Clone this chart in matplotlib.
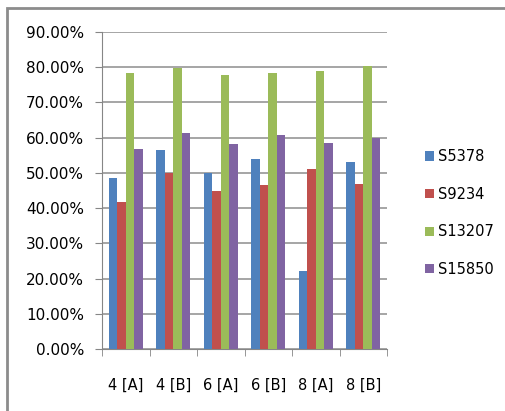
import matplotlib
matplotlib.use("Agg")
import matplotlib.pyplot as plt
import numpy as np
from matplotlib.patches import Rectangle
from matplotlib.ticker import PercentFormatter

# data
categories = ["4 [A]", "4 [B]", "6 [A]", "6 [B]", "8 [A]", "8 [B]"]
s5378 = [48.5, 56.5, 50.0, 53.9, 22.1, 53.1]
s9234 = [41.6, 50.0, 44.9, 46.6, 51.1, 46.9]
s13207 = [78.4, 79.9, 77.8, 78.4, 78.9, 80.4]
s15850 = [56.8, 61.3, 58.2, 60.8, 58.5, 59.9]
series_names = ["S5378", "S9234", "S13207", "S15850"]
colors = ["#4F81BD", "#C0504D", "#9BBB59", "#8064A2"]

plt.rcParams["font.family"] = "DejaVu Sans"

fig = plt.figure(figsize=(5.05, 4.11), dpi=100)
ax = fig.add_axes([102 / 505, 1 - 349 / 411, 285 / 505, 317 / 411])

# chart frame
fig.patches.append(Rectangle((7 / 505, -0.05), 1.1, 1 - 8 / 411 + 0.05,
                             transform=fig.transFigure, fill=False,
                             edgecolor="#8c8c8c", linewidth=2))

x = np.arange(len(categories))
w = 0.18
all_series = [s5378, s9234, s13207, s15850]
for i, (vals, name, c) in enumerate(zip(all_series, series_names, colors)):
    ax.bar(x + (i - 1.5) * w, vals, w, color=c, label=name, zorder=3)

ax.set_xlim(-0.5, len(categories) - 0.5)
ax.set_ylim(0, 90)
ax.set_yticks(np.arange(0, 91, 10))
ax.yaxis.set_major_formatter(PercentFormatter(decimals=2))
ax.set_xticks(x)
ax.set_xticklabels(categories)
ax.set_xticks(np.arange(-0.5, len(categories), 1), minor=True)
ax.tick_params(axis="x", which="major", length=0, pad=21, labelsize=10.5)
ax.tick_params(axis="x", which="minor", length=5, color="#868686")
ax.tick_params(axis="y", length=5, color="#868686", labelsize=11, pad=8)
ax.grid(axis="y", color="#969696", linewidth=1.2, zorder=0)

for s in ["top", "right"]:
    ax.spines[s].set_visible(False)
for s in ["left", "bottom"]:
    ax.spines[s].set_color("#868686")

fig.legend(loc="center left", bbox_to_anchor=(412 / 505, 1 - 213 / 411),
           frameon=False, fontsize=10.5, handlelength=0.6, handleheight=0.6,
           handletextpad=0.3, labelspacing=1.55)

fig.savefig("out.png", dpi=100)
